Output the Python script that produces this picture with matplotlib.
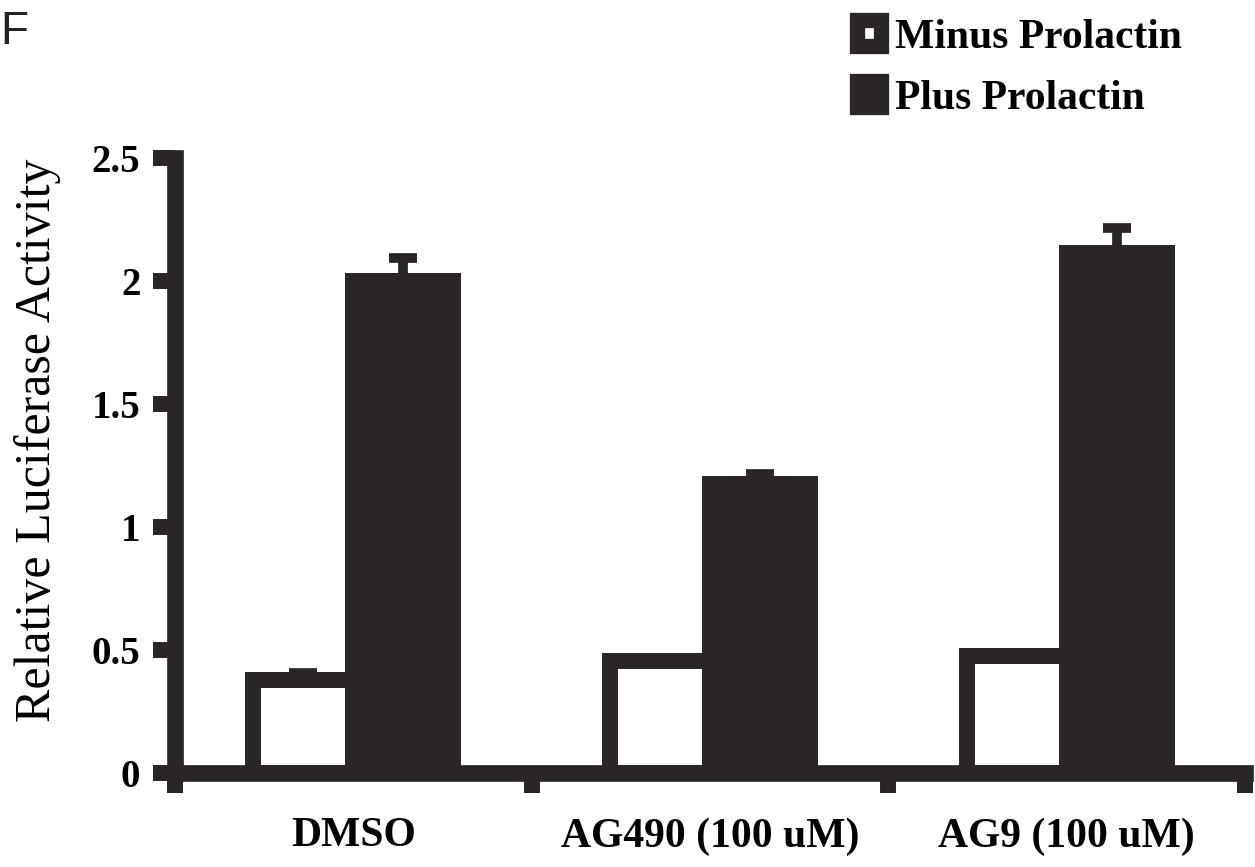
import numpy as np
import matplotlib
matplotlib.use('Agg')
import matplotlib.pyplot as plt
from matplotlib.patches import Patch

# data
groups = ['DMSO', 'AG490 (100 uM)', 'AG9 (100 uM)']
minus_vals = [0.38, 0.455, 0.476]
minus_err = [0.025, 0.0, 0.0]
plus_vals = [2.0, 1.175, 2.114]
plus_err = [0.095, 0.04, 0.10]
yticks = [0, 0.5, 1, 1.5, 2, 2.5]
ytick_labels = ['0', '0.5', '1', '1.5', '2', '2.5']

dark = '#2a2627'
serif = 'Liberation Serif'

fig = plt.figure(figsize=(12.55, 8.67), dpi=100)
ax = fig.add_axes([175/1255, 1 - 773/867, 1070/1255, 615/867])

x = np.arange(len(groups))
w = 0.28
err_kw = dict(ecolor=dark, elinewidth=7, capsize=10, capthick=7, zorder=3)
ax.bar(x - w/2, minus_vals, w, color='white', edgecolor=dark, linewidth=11.5,
       yerr=[np.zeros(3), minus_err], error_kw=err_kw, zorder=2)
ax.bar(x + w/2, plus_vals, w, color=dark, edgecolor=dark, linewidth=11.5,
       yerr=[np.zeros(3), plus_err], error_kw=err_kw, zorder=2)

ax.set_xlim(-0.5, 2.5)
ax.set_ylim(0, 2.5)

for s in ['top', 'right']:
    ax.spines[s].set_visible(False)
for s in ['left', 'bottom']:
    ax.spines[s].set_linewidth(12)
    ax.spines[s].set_color(dark)
    ax.spines[s].set_zorder(4)

ax.set_yticks(yticks)
ax.set_yticklabels(ytick_labels, fontfamily=serif, fontweight='bold', fontsize=28)
ax.tick_params(axis='y', length=16, width=11.5, color=dark, pad=9)

ax.set_xticks(x)
ax.set_xticklabels(groups, fontfamily=serif, fontweight='bold', fontsize=30)
ax.set_xticks([-0.5, 0.5, 1.5, 2.5], minor=True)
ax.tick_params(axis='x', which='major', length=0, pad=32)
ax.tick_params(axis='x', which='minor', length=14.5, width=11.5, color=dark)

ax.set_ylabel('Relative Luciferase Activity', fontfamily=serif, fontsize=36)
ax.yaxis.set_label_coords(-0.107, 0.541)

handles = [Patch(facecolor='white', edgecolor=dark, linewidth=11),
           Patch(facecolor=dark, edgecolor=dark, linewidth=11)]
fig.legend(handles, ['Minus Prolactin', 'Plus Prolactin'], loc='upper left',
           bbox_to_anchor=(857/1255, 1 - 19/867), frameon=False,
           prop={'family': serif, 'weight': 'bold', 'size': 30},
           handlelength=0.57, handleheight=0.57, handletextpad=0.35,
           labelspacing=0.55, borderpad=0, borderaxespad=0)

fig.text(0.0, 1 - 10/867, 'F', fontfamily='Liberation Sans', fontsize=33,
         ha='left', va='top', color='#222222')

fig.savefig('out.png', dpi=100)
